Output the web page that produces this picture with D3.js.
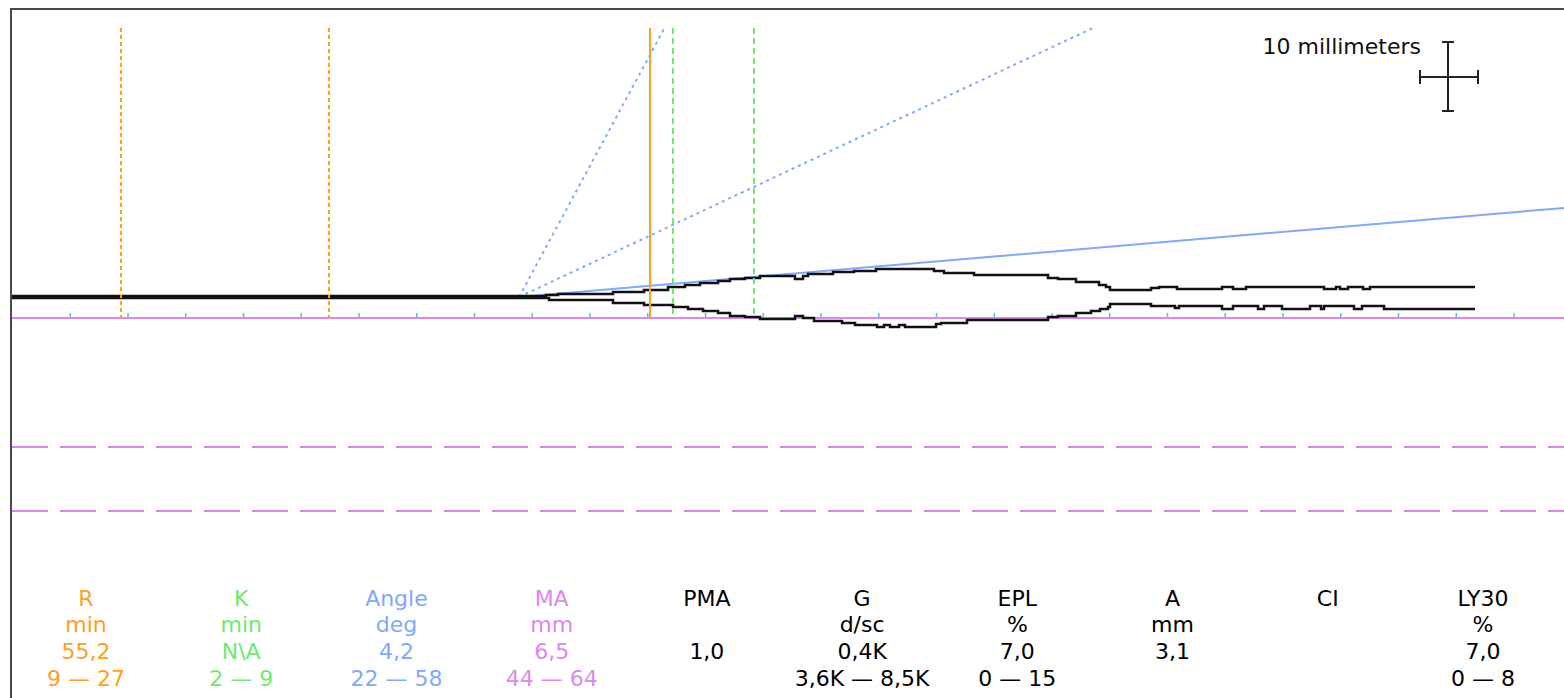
<!DOCTYPE html>
<html><head><meta charset="utf-8">
<script src="https://cdnjs.cloudflare.com/ajax/libs/d3/7.8.5/d3.min.js"></script>
<style>
body{margin:0;background:#fff}
svg{display:block}
text{font-family:"DejaVu Sans",Verdana,sans-serif}
</style></head>
<body><svg id="c" width="1564" height="698"></svg>
<script>
// ---------- data ----------
// trace: [minutes, amplitude mm] upper and lower branches
const traceUpper = [
 [0,0.2],[46.2,0.7],[47.3,1.0],[52.0,1.8],[54.7,2.4],[56.8,3.2],[58.3,3.9],[59.6,4.6],[61.1,5.3],
 [62.2,5.9],[63.5,6.4],[64.8,7.0],[66.5,7.1],[67.8,6.0],[68.5,7.1],[68.9,7.6],[71.1,8.2],[72.9,8.8],
 [74.8,9.4],[79.8,8.7],[80.7,8.1],[83.3,7.5],[89.7,6.4],[90.6,6.0],[92.1,5.0],[94.1,4.0],[94.7,3.2],
 [95.1,2.4],[98.6,2.9],[99.3,3.2],[100.9,2.7],[104.8,3.2],[105.7,2.7],[106.8,3.4],[113.6,2.7],
 [114.6,3.4],[115.0,2.7],[115.7,3.4],[117.0,2.7],[117.6,3.4],[126.7,3.4]
];
const traceLower = [
 [0,-0.2],[46.5,-1.0],[52.0,-1.9],[54.7,-2.7],[57.2,-3.2],[58.5,-4.0],[59.8,-4.7],[61.1,-5.4],
 [62.2,-6.2],[63.5,-6.8],[64.8,-7.2],[67.8,-6.3],[68.5,-7.1],[69.4,-7.9],[71.9,-8.7],[73.0,-9.4],
 [74.9,-9.9],[75.5,-9.4],[76.0,-9.9],[76.8,-9.4],[77.3,-9.9],[79.97,-9.0],[80.4,-8.5],[82.7,-7.8],
 [89.7,-6.7],[90.6,-6.2],[92.1,-5.4],[93.4,-4.7],[94.2,-4.0],[94.9,-3.2],[95.1,-2.4],[98.6,-3.0],
 [100.7,-3.8],[101.0,-3.0],[104.8,-4.0],[105.7,-3.0],[107.9,-4.0],[108.4,-3.0],[110.0,-4.0],
 [112.4,-3.0],[113.3,-4.0],[113.6,-3.0],[116.2,-4.0],[116.9,-3.0],[118.8,-4.0],[126.7,-4.0]
];
const rTime = 55.2;                 // R (min)
const rRangeMarks = [9.45, 27.45];  // R normal range markers (min)
const kRangeMarks = [57.2, 64.2];   // K range markers (min)
const angleLine = [[43.9,0],[135,29.9]];
const angleRangeLines = [[[43.9,0],[56.5,89.7]], [[43.9,0],[93.6,89.7]]];
const maRangeMarks = [44, 64];
const tickMinutes = [5,10,15,20,25,30,35,40,45,50,55,60,65,70,75,80,85,90,95,100,105,110,115,120,125,130];

const paramNames  = ["R","K","Angle","MA","PMA","G","EPL","A","CI","LY30"];
const paramUnits  = ["min","min","deg","mm","","d/sc","%","mm","","%"];
const paramValues = ["55,2","N\\A","4,2","6,5","1,0","0,4K","7,0","3,1","","7,0"];
const paramRanges = ["9 \u2014 27","2 \u2014 9","22 \u2014 58","44 \u2014 64","","3,6K \u2014 8,5K","0 \u2014 15","","","0 \u2014 8"];
const scaleLabel = "10 millimeters";

// ---------- styles ----------
const ORANGE = "#ffa020", GREEN = "#70e870", BLUE = "#80a8ff", PINK = "#dc88ec", TICK = "#5ab8ee";
const paramColors = [ORANGE, GREEN, BLUE, PINK, "#000","#000","#000","#000","#000","#000"];

// ---------- scales ----------
const svg = d3.select("#c");
const x = d3.scaleLinear().domain([0, 135]).range([12, 12 + 135 * 11.55]);
const y = d3.scaleLinear().domain([0, 10]).range([297, 267]);   // amplitude mm
const maY = d3.scaleLinear().domain([44, 64]).range([447, 510.5]);
const topAmp = 89.7, baseAmp = -7;
const px = v => Math.round(v);

// frame
svg.append("path").attr("d", "M11,698 V9 H1564").attr("fill","none")
  .attr("stroke","#4a4a4a").attr("stroke-width",2);

// baseline
svg.append("line").attr("x1", x(0)).attr("x2", 1564).attr("y1", px(y(baseAmp))).attr("y2", px(y(baseAmp)))
  .attr("stroke", PINK).attr("stroke-width", 2);

// ticks
const ax = svg.append("g").attr("transform", `translate(0,${px(y(baseAmp)) - 1})`)
  .call(d3.axisTop(x).tickValues(tickMinutes).tickSize(4).tickFormat(""));
ax.select(".domain").remove();
ax.selectAll("line").attr("stroke", TICK).attr("stroke-width", 1.5);

// MA range lines
svg.selectAll(".ma").data(maRangeMarks).join("line")
  .attr("x1", x(0)).attr("x2", 1564).attr("y1", d => px(maY(d))).attr("y2", d => px(maY(d)))
  .attr("stroke", PINK).attr("stroke-width", 2).attr("stroke-dasharray", "36,12");

// angle lines
const line = d3.line().x(d => x(d[0])).y(d => y(d[1]));
angleRangeLines.forEach(l => svg.append("path").attr("d", line(l)).attr("fill","none")
  .attr("stroke", BLUE).attr("stroke-width", 2).attr("stroke-dasharray","3,4"));
svg.append("path").attr("d", line(angleLine)).attr("fill","none")
  .attr("stroke", BLUE).attr("stroke-width", 2);

// trace
const step = d3.line().x(d => px(x(d[0]))).y(d => px(y(d[1]))).curve(d3.curveStepAfter);
[traceUpper, traceLower].forEach(t => svg.append("path").attr("d", step(t)).attr("fill","none")
  .attr("stroke", "#111").attr("stroke-width", 2.5));

// vertical markers
function vline(t, color, dash){
  const l = svg.append("line").attr("x1", px(x(t))).attr("x2", px(x(t)))
    .attr("y1", px(y(topAmp))).attr("y2", px(y(baseAmp))).attr("stroke", color).attr("stroke-width", 2);
  if (dash) l.attr("stroke-dasharray", dash);
}
rRangeMarks.forEach(t => vline(t, ORANGE, "4,3"));
kRangeMarks.forEach(t => vline(t, GREEN, "6,4"));
vline(rTime, ORANGE, null);

// scale bar
const sb = svg.append("g").attr("stroke", "#222").attr("stroke-width", 2).attr("fill","none");
sb.append("path").attr("d", "M1448,42 V111 M1442,42 H1454 M1442,111 H1454 M1420,77 H1478 M1420,70 V84 M1478,70 V84");
svg.append("text").attr("x", 1421).attr("y", 54).attr("text-anchor","end")
  .attr("font-size", 22).attr("fill","#111").text(scaleLabel);

// parameter table
const col = d3.scalePoint().domain(paramNames).range([86, 1483]);
const rows = [paramNames, paramUnits, paramValues, paramRanges];
const rowY = [606, 632, 659, 686];
rows.forEach((r, ri) => {
  svg.append("g").selectAll("text").data(r).join("text")
    .attr("x", (d, i) => col(paramNames[i])).attr("y", rowY[ri])
    .attr("text-anchor", "middle").attr("font-size", 22)
    .attr("fill", (d, i) => paramColors[i]).text(d => d);
});
</script></body></html>
